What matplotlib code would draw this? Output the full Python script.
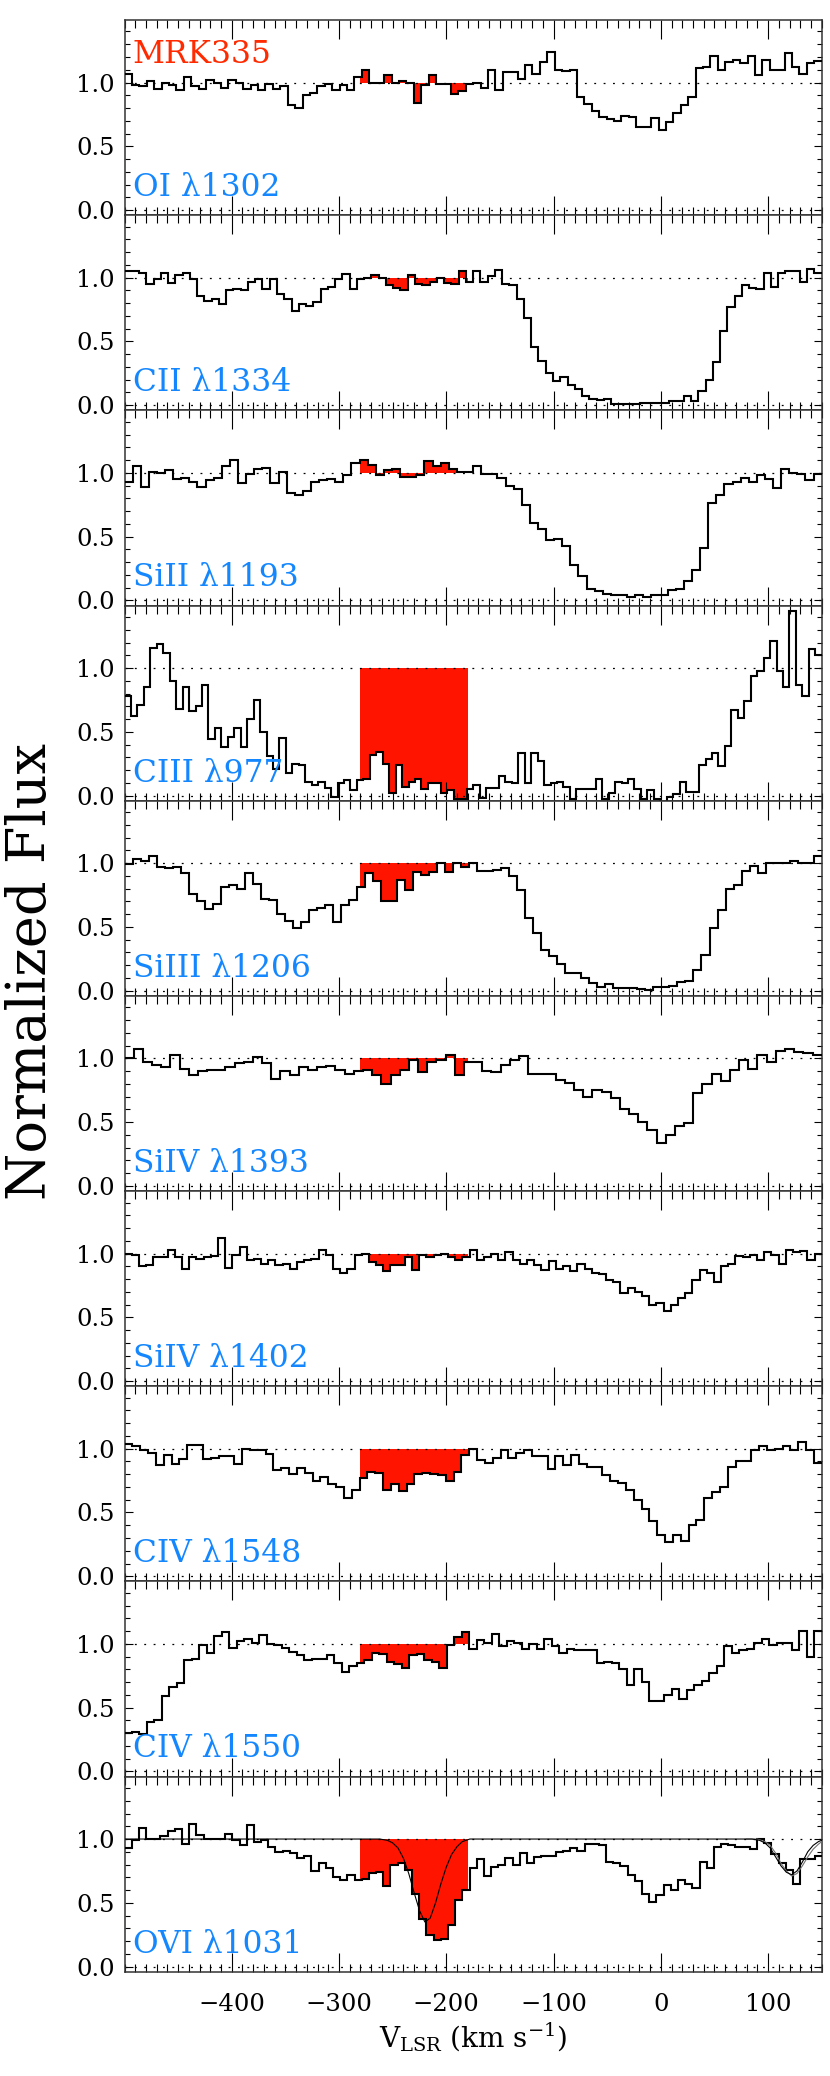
import numpy as np
import matplotlib
matplotlib.use('Agg')
import matplotlib.pyplot as plt
import matplotlib.transforms as mtransforms
from matplotlib.ticker import MultipleLocator, FixedLocator, FormatStrFormatter

plt.rcParams['font.family'] = ['DejaVu Serif']
plt.rcParams['mathtext.fontset'] = 'dejavuserif'

# ---------------- data ----------------
V_MIN, V_MAX = -500.0, 150.0
INT_LO, INT_HI = -280.0, -180.0
TARGET = 'MRK335'

line_labels = ['OI λ1302', 'CII λ1334', 'SiII λ1193', 'CIII λ977', 'SiIII λ1206',
               'SiIV λ1393', 'SiIV λ1402', 'CIV λ1548', 'CIV λ1550', 'OVI λ1031']

flux_OI1302 = [1.07,0.98,0.97,1.01,0.95,1.0,0.98,0.94,1.04,0.97,
               0.95,1.02,1.0,0.96,1.02,1.0,0.95,0.98,0.94,0.99,
               0.95,0.97,0.82,0.80,0.9,0.92,0.97,0.99,0.94,0.98,
               0.94,1.04,1.1,1.0,1.0,1.06,1.0,1.01,1.0,0.84,
               0.98,1.06,0.99,0.99,0.91,0.93,0.99,1.0,0.96,1.1,
               0.94,1.08,1.08,1.03,1.14,1.07,1.16,1.24,1.1,1.09,
               1.1,0.89,0.83,0.78,0.73,0.71,0.70,0.74,0.73,0.65,
               0.65,0.72,0.63,0.69,0.76,0.82,0.89,1.11,1.12,1.21,
               1.1,1.16,1.18,1.15,1.21,1.06,1.18,1.1,1.1,1.23,
               1.12,1.07,1.15,1.17]

flux_CII1334 = [1.05,1.05,1.04,0.95,0.99,1.04,0.96,1.02,1.04,0.99,
                0.86,0.82,0.83,0.79,0.9,0.91,0.9,0.97,0.99,0.91,
                0.99,0.87,0.83,0.74,0.79,0.78,0.81,0.91,0.93,0.99,
                1.03,0.91,0.99,1.0,1.02,1.0,0.94,0.92,0.9,1.02,
                0.95,0.94,0.97,1.0,0.96,0.95,1.05,0.97,1.05,0.97,
                1.01,1.06,0.95,0.94,0.83,0.68,0.46,0.35,0.25,0.19,
                0.22,0.16,0.13,0.07,0.05,0.04,0.05,0.01,0.01,0.01,
                0.01,0.015,0.02,0.02,0.015,0.03,0.035,0.07,0.03,0.11,
                0.2,0.34,0.58,0.77,0.86,0.94,0.92,0.91,1.04,0.93,
                1.04,1.05,1.05,0.97,1.07,1.04]

flux_SiII1193 = [0.93,1.05,0.89,1.01,1.0,1.02,0.95,0.96,0.93,0.89,
                 0.94,0.96,1.05,1.1,0.92,0.99,1.03,1.04,0.92,1.01,
                 0.84,0.83,0.86,0.93,0.94,0.95,0.93,0.98,1.08,1.1,
                 1.06,0.98,1.02,1.03,0.97,0.97,0.98,1.09,1.05,1.08,
                 1.03,1.01,1.01,1.05,0.99,0.99,0.96,0.9,0.87,0.75,
                 0.61,0.56,0.47,0.48,0.43,0.28,0.19,0.09,0.07,0.05,
                 0.04,0.04,0.03,0.04,0.03,0.04,0.04,0.08,0.09,0.15,
                 0.24,0.41,0.76,0.83,0.91,0.93,0.96,0.93,0.98,0.95,
                 0.88,1.03,1.0,0.99,0.94,0.99]

flux_CIII977 = [0.78,0.62,0.71,0.85,1.16,1.19,1.12,0.9,0.68,0.85,
                0.66,0.70,0.87,0.44,0.53,0.38,0.46,0.53,0.38,0.6,
                0.75,0.5,0.31,0.21,0.45,0.18,0.25,0.24,0.11,0.08,
                0.11,0.06,-0.01,0.1,0.12,0.04,0.12,0.13,0.32,0.34,
                0.25,0.02,0.24,0.07,0.11,0.13,0.05,0.1,0.1,0.02,
                0.04,-0.03,-0.03,0.05,0.08,-0.02,0.06,0.06,0.15,0.11,
                0.1,0.33,0.1,0.33,0.27,0.08,0.1,0.11,0.07,-0.03,
                0.05,0.05,0.05,0.13,-0.03,0.02,0.11,0.1,0.13,0.05,
                -0.03,0.04,-0.03,-0.05,-0.01,0.01,0.11,0.03,0.03,0.24,
                0.29,0.33,0.23,0.39,0.67,0.61,0.74,0.94,0.98,1.08,
                1.21,0.98,0.85,1.45,0.87,0.78,1.15,1.1]

flux_SiIII1206 = [0.99,1.03,1.02,1.06,0.97,0.96,0.97,0.92,0.76,0.70,
                  0.64,0.68,0.81,0.83,0.8,0.92,0.84,0.72,0.71,0.6,
                  0.55,0.49,0.54,0.63,0.65,0.67,0.54,0.67,0.71,0.81,
                  0.92,0.86,0.7,0.7,0.87,0.79,0.93,0.91,0.93,1.0,
                  0.93,1.0,0.97,1.0,0.94,0.94,0.95,0.96,0.9,0.79,
                  0.57,0.45,0.32,0.27,0.21,0.14,0.14,0.1,0.06,0.03,
                  0.05,0.02,0.02,0.02,0.01,0.005,0.03,0.03,0.04,0.07,
                  0.08,0.16,0.28,0.49,0.63,0.8,0.83,0.94,0.98,0.92,
                  1.0,1.0,1.0,1.02,1.0,1.0,1.06]

flux_SiIV1393 = [1.0,1.07,0.97,0.95,0.93,1.03,0.92,0.87,0.9,0.91,
                 0.91,0.93,0.96,0.97,1.01,0.96,0.84,0.9,0.87,0.93,
                 0.91,0.93,0.94,0.91,0.88,0.9,0.91,0.87,0.8,0.87,
                 0.91,0.99,0.89,0.97,0.99,1.03,0.87,0.97,0.97,0.9,
                 0.89,0.95,0.99,1.02,0.88,0.88,0.88,0.83,0.81,0.75,
                 0.7,0.75,0.74,0.69,0.6,0.56,0.5,0.44,0.34,0.4,
                 0.47,0.49,0.73,0.8,0.88,0.82,0.91,0.99,0.92,1.03,
                 0.97,1.06,1.07,1.05,1.04,1.03]

flux_SiIV1402 = [1.0,0.99,0.9,0.91,0.97,0.97,1.03,0.97,0.88,0.97,
                 0.96,0.97,0.98,1.12,0.89,0.99,1.05,0.95,0.96,0.92,
                 0.95,0.91,0.92,0.88,0.93,0.95,0.96,1.03,0.99,0.88,
                 0.85,0.88,0.99,1.0,0.93,0.91,0.86,0.91,0.91,0.97,
                 0.87,0.99,0.97,0.99,1.0,0.97,0.95,0.97,1.03,0.95,
                 0.97,1.0,0.95,1.01,0.95,0.92,0.95,0.91,0.87,0.94,
                 0.88,0.9,0.86,0.92,0.88,0.85,0.84,0.79,0.78,0.69,
                 0.73,0.7,0.67,0.6,0.61,0.55,0.6,0.65,0.69,0.79,
                 0.87,0.85,0.78,0.9,0.92,0.98,0.97,0.99,0.95,1.01,
                 0.99,0.92,1.03,1.01,1.02,0.95,1.0]

flux_CIV1548 = [1.04,1.02,0.99,0.97,0.87,0.95,0.88,0.92,1.03,1.03,
                0.92,0.93,0.94,0.94,0.88,1.0,0.99,0.99,0.96,0.83,
                0.85,0.8,0.85,0.81,0.75,0.78,0.72,0.7,0.61,0.68,
                0.77,0.82,0.81,0.68,0.72,0.67,0.72,0.8,0.81,0.8,
                0.79,0.75,0.82,0.95,1.0,0.91,0.89,0.93,0.99,0.93,
                0.97,0.99,0.94,0.94,0.84,0.94,0.87,0.95,0.88,0.86,
                0.86,0.79,0.75,0.73,0.68,0.6,0.53,0.43,0.32,0.27,
                0.32,0.28,0.4,0.44,0.61,0.66,0.7,0.86,0.9,0.9,
                0.99,1.02,0.99,1.0,1.02,0.99,1.05,0.99,0.89]

flux_CIV1550 = [0.3,0.31,0.29,0.39,0.4,0.59,0.66,0.69,0.87,0.88,
                0.99,0.93,1.06,1.09,0.97,1.02,1.04,1.01,1.07,1.0,
                0.99,0.97,0.94,0.91,0.87,0.88,0.88,0.91,0.85,0.78,
                0.83,0.85,0.87,0.93,0.92,0.86,0.84,0.81,0.91,0.92,
                0.87,0.86,0.81,0.99,1.05,1.09,0.96,1.03,1.01,1.08,
                0.98,1.02,1.01,0.96,1.0,0.96,1.04,0.98,0.93,0.96,
                0.95,0.95,0.95,0.85,0.86,0.85,0.8,0.68,0.8,0.7,
                0.55,0.55,0.6,0.65,0.57,0.64,0.68,0.71,0.77,0.83,
                0.98,0.93,0.95,0.96,1.01,1.04,0.99,1.01,1.01,0.95,
                1.1,0.9,1.1]

flux_OVI1031 = [0.93,0.99,1.09,1.0,1.0,1.02,1.06,1.08,0.96,1.12,
                1.03,1.0,1.0,1.0,1.04,0.99,0.95,1.11,0.98,0.99,
                0.94,0.9,0.91,0.89,0.85,0.87,0.75,0.81,0.77,0.7,
                0.68,0.72,0.68,0.69,0.73,0.74,0.63,0.8,0.81,0.76,
                0.57,0.37,0.25,0.21,0.22,0.33,0.52,0.6,0.77,0.84,
                0.71,0.78,0.8,0.85,0.8,0.89,0.81,0.86,0.87,0.87,
                0.9,0.91,0.93,0.91,0.96,0.96,0.95,0.82,0.81,0.79,
                0.72,0.67,0.57,0.51,0.56,0.64,0.6,0.68,0.65,0.62,
                0.82,0.77,0.94,0.96,0.95,0.94,0.94,0.92,1.0,0.97,
                0.88,0.81,0.76,0.65,0.84,0.84,0.87]

# OVI fitted model profile
ovi_model_v = [-500, -262, -255, -250, -245, -240, -235, -230, -225, -220, -215,
               -210, -205, -200, -195, -190, -185, -178, 85, 92, 97, 102, 107,
               112, 117, 122, 127, 132, 137, 142, 147, 150]
ovi_model_f = [1.0, 1.0, 0.99, 0.97, 0.93, 0.85, 0.73, 0.58, 0.44, 0.35, 0.38,
               0.5, 0.65, 0.78, 0.88, 0.94, 0.98, 1.0, 1.0, 0.99, 0.97, 0.93, 0.86,
               0.79, 0.74, 0.72, 0.75, 0.82, 0.9, 0.95, 0.98, 0.99]
ovi_model2_v = [80, 90, 97, 102, 107, 112, 117, 122, 127, 132, 137, 142, 147, 150]
ovi_model2_f = [1.0, 1.0, 0.98, 0.95, 0.89, 0.81, 0.75, 0.71, 0.73, 0.79, 0.86, 0.92, 0.96, 0.98]

fluxes = [flux_OI1302, flux_CII1334, flux_SiII1193, flux_CIII977, flux_SiIII1206,
          flux_SiIV1393, flux_SiIV1402, flux_CIV1548, flux_CIV1550, flux_OVI1031]

# ---------------- style ----------------
RED = '#FF1400'
BLUE = '#1487FF'
TXT_RED = '#FF2A00'

fig = plt.figure(figsize=(8.30, 20.76), dpi=100)
W, H = 830.0, 2076.0
left, right = 124.5 / W, 821.7 / W
top, bottom = 1 - 20.0 / H, 1 - 1971.7 / H
n = len(fluxes)
ph = (top - bottom) / n

for i, (flux, lab) in enumerate(zip(fluxes, line_labels)):
    ax = fig.add_axes([left, top - (i + 1) * ph, right - left, ph])
    f = np.asarray(flux, dtype=float)
    edges = np.linspace(V_MIN, V_MAX, len(f) + 1)

    # integration range shading between spectrum and continuum
    lo, hi = edges[:-1], edges[1:]
    sel = (hi > INT_LO) & (lo < INT_HI)
    e_sel = np.concatenate([[max(lo[sel][0], INT_LO)], hi[sel][:-1], [min(hi[sel][-1], INT_HI)]])
    ax.stairs(f[sel], e_sel, baseline=1.0, fill=True, color=RED, lw=0, zorder=1)

    ax.axhline(1.0, color='k', lw=0.9, ls=(0, (1.5, 6)), zorder=2)
    ax.axhline(0.0, color='k', lw=0.9, ls=(0, (1.5, 6)), zorder=2)

    ax.stairs(f, edges, baseline=None, color='k', lw=1.5, zorder=3)

    if i == n - 1:
        ax.plot(ovi_model2_v, ovi_model2_f, color='0.45', lw=0.8, zorder=4)
        ax.plot(ovi_model_v, ovi_model_f, color='k', lw=0.8, zorder=4)

    ax.set_xlim(V_MIN, V_MAX)
    ax.set_ylim(-0.04, 1.49)

    ax.xaxis.set_major_locator(FixedLocator([-400, -300, -200, -100, 0, 100]))
    ax.xaxis.set_minor_locator(MultipleLocator(10))
    ax.yaxis.set_major_locator(FixedLocator([0.0, 0.5, 1.0]))
    ax.yaxis.set_minor_locator(MultipleLocator(0.1))
    ax.yaxis.set_major_formatter(FormatStrFormatter('%.1f'))

    ax.tick_params(which='both', direction='in', top=True, right=True, width=0.8, color='k')
    ax.tick_params(axis='x', which='major', length=13.5)
    ax.tick_params(axis='x', which='minor', length=5.8)
    ax.tick_params(axis='y', which='major', length=6.0)
    ax.tick_params(axis='y', which='minor', length=3.6)
    ax.tick_params(axis='y', labelsize=17.5, pad=7)
    ax.tick_params(axis='x', labelsize=17.5, pad=15, labelbottom=(i == n - 1))
    for sp in ax.spines.values():
        sp.set_linewidth(1.1)
        sp.set_color('#333333')

    tr = mtransforms.blended_transform_factory(ax.transAxes, ax.transData)
    ax.text(0.012, 0.11, lab, transform=tr, color=BLUE, fontsize=22.5,
            ha='left', va='baseline', zorder=6)
    if i == 0:
        ax.text(0.012, 1.155, TARGET, transform=tr, color=TXT_RED, fontsize=22.5,
                ha='left', va='baseline', zorder=6)

fig.text((left + right) / 2, 1 - 2048 / H, r'V$_{\mathrm{LSR}}$ (km s$^{-1}$)',
         ha='center', va='baseline', fontsize=20)
fig.text(31 / W, 1 - 971 / H, 'Normalized Flux', rotation=90,
         ha='center', va='center', fontsize=39)

fig.savefig('out.png', dpi=100)
